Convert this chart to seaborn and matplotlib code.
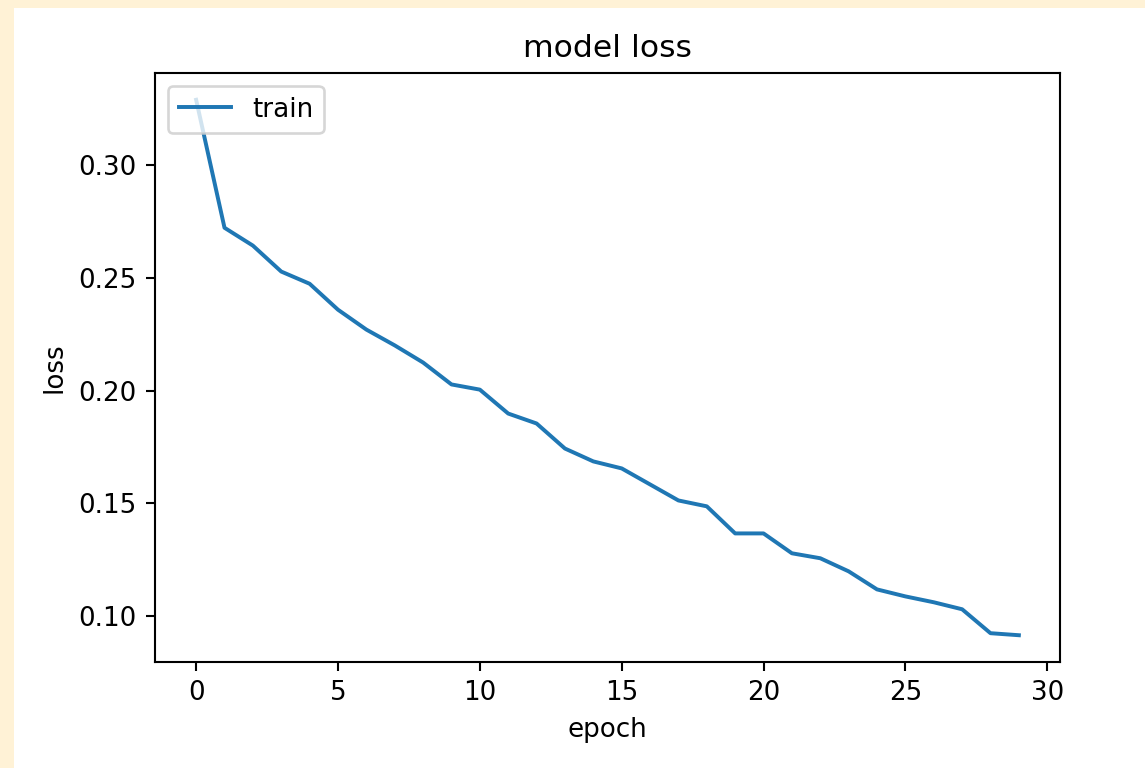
import numpy as np
import pandas as pd
import matplotlib
matplotlib.use("Agg")
import matplotlib.pyplot as plt
from matplotlib.patches import Rectangle
import seaborn as sns

# training history
epochs = list(range(30))
train_loss = [0.3288, 0.2721, 0.2642, 0.2527, 0.2473, 0.2358, 0.2270, 0.2200,
              0.2124, 0.2027, 0.2004, 0.1898, 0.1854, 0.1743, 0.1686, 0.1655,
              0.1584, 0.1513, 0.1487, 0.1367, 0.1367, 0.1279, 0.1257, 0.1199,
              0.1119, 0.1088, 0.1062, 0.1031, 0.0925, 0.0916]

DPI = 188.6
W, H = 1145, 768

df = pd.DataFrame({"epoch": epochs, "loss": train_loss})

fig = plt.figure(figsize=(W / DPI, H / DPI), dpi=DPI)
fig.patch.set_facecolor("#FFF2D6")
# white canvas inset (notebook output frame), kept behind the axes
fig.patches.append(Rectangle((14 / W, 0), 1 - 14 / W, 1 - 8 / H,
                             transform=fig.transFigure, facecolor="white",
                             edgecolor="none", zorder=-10))

ax = fig.add_axes([155 / W, 1 - 662 / H, (1060 - 155) / W, (662 - 73) / H])
sns.lineplot(data=df, x="epoch", y="loss", ax=ax, color="#1f77b4",
             linewidth=1.5, label="train")
ax.set_title("model loss")
ax.set_xlabel("epoch")
ax.set_ylabel("loss")
ax.legend(loc="upper left")

fig.savefig("out.png", dpi=DPI)
